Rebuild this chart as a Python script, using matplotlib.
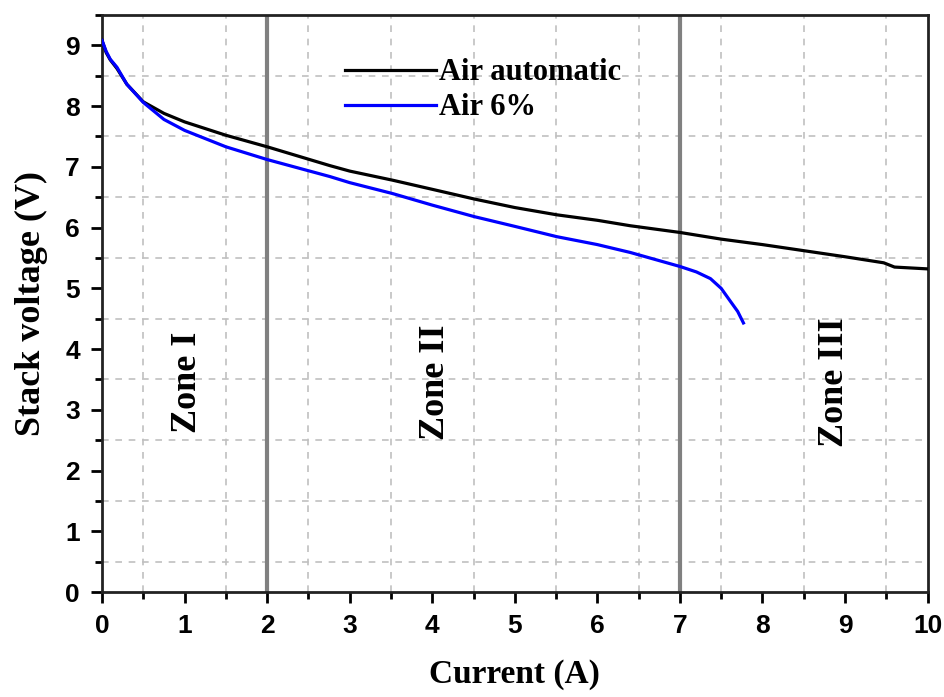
import matplotlib
matplotlib.use("Agg")
import matplotlib.pyplot as plt
from matplotlib.ticker import MultipleLocator

# ---- data ----
x_auto = [0, 0.05, 0.1, 0.18, 0.3, 0.5, 0.75, 1.0, 1.5, 2.0, 2.76, 3.0, 3.52, 4.0,
          4.51, 5.0, 5.51, 6.0, 6.4, 7.0, 7.5, 8.0, 8.5, 9.0, 9.47, 9.6, 10.0]
v_auto = [9.08, 8.88, 8.76, 8.62, 8.36, 8.07, 7.88, 7.74, 7.52, 7.33, 7.02, 6.93, 6.78, 6.63,
          6.47, 6.33, 6.21, 6.12, 6.03, 5.92, 5.81, 5.72, 5.62, 5.52, 5.42, 5.35, 5.32]

x_6 = [0, 0.05, 0.1, 0.18, 0.3, 0.5, 0.75, 1.0, 1.5, 2.0, 2.76, 3.0, 3.52, 4.0, 4.51,
       5.0, 5.51, 6.0, 6.4, 7.0, 7.2, 7.37, 7.5, 7.61, 7.7, 7.77]
v_6 = [9.08, 8.9, 8.77, 8.64, 8.36, 8.06, 7.78, 7.6, 7.33, 7.12, 6.84, 6.74, 6.56, 6.37, 6.18,
       6.02, 5.85, 5.72, 5.59, 5.36, 5.27, 5.16, 5.0, 4.79, 4.62, 4.43]

zone_x = [2, 7]
zone_labels = ["Zone I", "Zone II", "Zone III"]
zone_label_x = [1.04, 4.04, 8.87]
zone_label_y = 3.45

serif = "Liberation Serif"
sans = "Liberation Sans"

fig = plt.figure(figsize=(9.45, 6.97), dpi=100)
ax = fig.add_axes([0.108, 0.1506, 0.8735, 0.8279])

ax.set_xlim(0, 10)
ax.set_ylim(0, 9.5)

# minor grid only
ax.xaxis.set_major_locator(MultipleLocator(1))
ax.xaxis.set_minor_locator(MultipleLocator(0.5))
ax.yaxis.set_major_locator(MultipleLocator(1))
ax.yaxis.set_minor_locator(MultipleLocator(0.5))
ax.grid(which="minor", color="#c0c0c0", linestyle=(0, (4, 4)), linewidth=1.2)
ax.grid(which="major", visible=False)
ax.set_axisbelow(True)

for xz in zone_x:
    ax.axvline(xz, color="#808080", linewidth=3, zorder=2)

ax.plot(x_auto, v_auto, color="black", linewidth=2.3, label="Air automatic", zorder=3)
ax.plot(x_6, v_6, color="#0000ff", linewidth=2.3, label="Air 6%", zorder=3)

for lab, lx in zip(zone_labels, zone_label_x):
    ax.text(lx, zone_label_y, lab, rotation=90, ha="center", va="center",
            fontsize=26, fontweight="bold", family=serif)

for s in ax.spines.values():
    s.set_linewidth(2)
    s.set_color("#222222")

ax.tick_params(which="major", direction="out", length=8, width=2, top=False, right=False,
               labelsize=19, pad=8)
ax.tick_params(which="minor", direction="out", length=5, width=2, top=False, right=False)
for lbl in ax.get_xticklabels() + ax.get_yticklabels():
    lbl.set_fontfamily(sans)
    lbl.set_fontweight("bold")

ax.set_xlabel("Current (A)", fontsize=24, fontweight="bold", family=serif, labelpad=15)
ax.set_ylabel("Stack voltage (V)", fontsize=26, fontweight="bold", family=serif, labelpad=12)

leg = ax.legend(loc="upper left", bbox_to_anchor=(0.294, 0.925), frameon=False,
                borderpad=0, borderaxespad=0, handlelength=3.0, handletextpad=0.1,
                labelspacing=0.2, prop={"family": serif, "weight": "bold", "size": 22})

fig.savefig("out.png", dpi=100)
